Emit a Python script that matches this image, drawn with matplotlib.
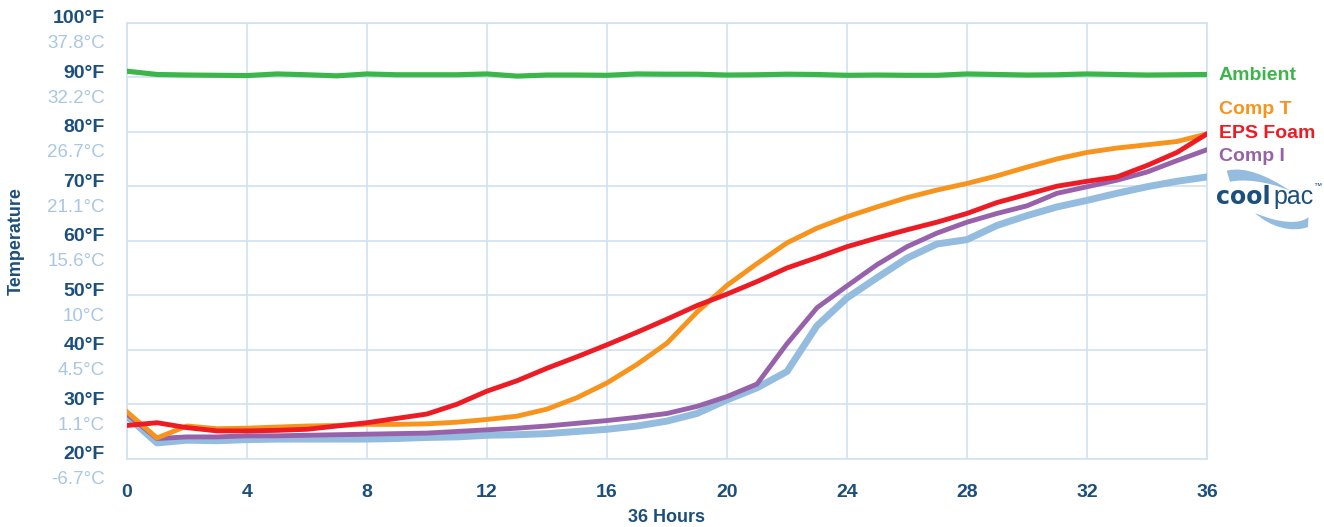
import matplotlib
matplotlib.use("Agg")
import matplotlib.pyplot as plt
from matplotlib.path import Path
from matplotlib.patches import PathPatch

# ---------------- data ----------------
hours = list(range(37))
ambient = [91.1, 90.5, 90.4, 90.35, 90.3, 90.6, 90.45, 90.25, 90.6, 90.45, 90.45, 90.45, 90.6,
           90.2, 90.4, 90.4, 90.35, 90.6, 90.55, 90.55, 90.4, 90.45, 90.55, 90.5, 90.35, 90.4,
           90.35, 90.35, 90.6, 90.5, 90.4, 90.45, 90.6, 90.5, 90.4, 90.45, 90.5]
comp_t = [28.6, 23.8, 26.0, 25.5, 25.6, 25.8, 26.0, 26.1, 26.3, 26.3, 26.4, 26.7, 27.2, 27.8,
          29.1, 31.2, 33.9, 37.3, 41.2, 46.9, 51.8, 55.8, 59.6, 62.3, 64.4, 66.2, 67.9, 69.3,
          70.5, 71.9, 73.5, 75.0, 76.2, 77.0, 77.6, 78.2, 79.6]
eps_foam = [26.1, 26.6, 25.7, 25.1, 25.1, 25.2, 25.4, 26.0, 26.6, 27.4, 28.2, 30.0, 32.4, 34.3,
            36.6, 38.7, 40.9, 43.2, 45.6, 48.1, 50.2, 52.5, 55.0, 56.9, 58.9, 60.5, 62.0, 63.4,
            65.0, 67.0, 68.5, 70.0, 70.9, 71.7, 73.8, 76.2, 79.6]
comp_i = [28.2, 23.7, 24.0, 24.0, 24.2, 24.2, 24.3, 24.4, 24.5, 24.6, 24.7, 25.0, 25.3, 25.6,
          26.0, 26.5, 27.0, 27.6, 28.3, 29.6, 31.4, 33.7, 41.1, 47.7, 51.7, 55.6, 58.9, 61.4,
          63.4, 65.0, 66.4, 68.7, 69.9, 71.1, 72.6, 74.7, 76.7]
coolpac = [27.8, 22.9, 23.4, 23.3, 23.5, 23.6, 23.6, 23.6, 23.6, 23.7, 23.9, 24.0, 24.3, 24.4,
           24.6, 25.0, 25.4, 26.0, 26.9, 28.3, 30.8, 33.0, 36.0, 44.4, 49.5, 53.2, 56.8, 59.4,
           60.2, 62.8, 64.6, 66.2, 67.4, 68.7, 69.9, 70.9, 71.7]

f_ticks = [20, 30, 40, 50, 60, 70, 80, 90, 100]
f_labels = ["20°F", "30°F", "40°F", "50°F", "60°F", "70°F", "80°F", "90°F", "100°F"]
c_labels = ["-6.7°C", "1.1°C", "4.5°C", "10°C", "15.6°C", "21.1°C", "26.7°C", "32.2°C", "37.8°C"]
x_ticks = [0, 4, 8, 12, 16, 20, 24, 28, 32, 36]

series_names = ["Ambient", "Comp T", "EPS Foam", "Comp I"]

# ---------------- style ----------------
plt.rcParams['font.family'] = ['Liberation Sans', 'DejaVu Sans']
DARK = '#1c4f7c'
CLIGHT = '#a9c7e3'
GRID = '#d4e3f1'
GREEN = '#3cb54a'
ORANGE = '#f7941d'
RED = '#ed1c24'
PURPLE = '#9762a9'
LBLUE = '#93bcde'

W, H = 1324, 527
fig = plt.figure(figsize=(W / 100, H / 100), dpi=100)
ax = fig.add_axes([127 / W, 1 - 458.7 / H, 1080 / W, 436 / H])

ax.plot(hours, coolpac, color=LBLUE, lw=5.0, zorder=3)
ax.plot(hours, comp_i, color=PURPLE, lw=3.5, zorder=4)
ax.plot(hours, comp_t, color=ORANGE, lw=3.5, zorder=5)
ax.plot(hours, eps_foam, color=RED, lw=3.5, zorder=6)
ax.plot(hours, ambient, color=GREEN, lw=3.7, zorder=6)

ax.set_xlim(0, 36)
ax.set_ylim(20, 100)
ax.set_xticks(x_ticks)
ax.set_yticks(f_ticks)
ax.grid(True, color=GRID, lw=1.3, zorder=0)
ax.set_axisbelow(True)
for s in ax.spines.values():
    s.set_color(GRID)
    s.set_linewidth(1.3)
ax.tick_params(length=0)
ax.set_yticklabels([])
ax.set_xticklabels([str(v) for v in x_ticks], fontsize=14, fontweight='bold', color=DARK)
ax.tick_params(axis='x', pad=18)

for v, fl, cl in zip(f_ticks, f_labels, c_labels):
    ax.annotate(fl, xy=(0, v), xycoords=('axes fraction', 'data'), xytext=(-16, 3),
                textcoords='offset points', ha='right', va='center', fontsize=14,
                fontweight='bold', color=DARK)
    ax.annotate(cl, xy=(0, v), xycoords=('axes fraction', 'data'), xytext=(-16, -15),
                textcoords='offset points', ha='right', va='center', fontsize=13.5,
                color=CLIGHT)

fig.text(667 / W, 1 - 517 / H, "36 Hours", ha='center', va='center', fontsize=13,
         fontweight='bold', color=DARK)
fig.text(16 / W, 1 - 241 / H, "Temperature", ha='center', va='center', rotation=90,
         fontsize=13, fontweight='bold', color=DARK)

# series labels at the right
lab_cols = [GREEN, ORANGE, RED, PURPLE]
lab_y = [75, 109, 133, 157]
for name, col, yy in zip(series_names, lab_cols, lab_y):
    fig.text(1219 / W, 1 - yy / H, name, ha='left', va='center', fontsize=14,
             fontweight='bold', color=col)

# coolpac logo
fig.text(1216 / W, 1 - 197 / H, "cool", ha='left', va='center', fontsize=17,
         fontweight='bold', family=['DejaVu Sans'], color=DARK)
fig.text(1273 / W, 1 - 197 / H, "pac", ha='left', va='center', fontsize=18,
         family=['Liberation Sans', 'DejaVu Sans'], color=DARK)
fig.text(1313 / W, 1 - 187 / H, "™", ha='left', va='center', fontsize=6, color=DARK)


def px(x, y):
    return (x / W, 1 - y / H)


top = [px(1226.7, 170.7), px(1245, 166), px(1268, 176), px(1290, 190.7),
       px(1265, 180.5), px(1243, 179), px(1230, 181.7), px(1226.7, 170.7)]
top_codes = [Path.MOVETO, Path.CURVE4, Path.CURVE4, Path.CURVE4,
             Path.CURVE4, Path.CURVE4, Path.CURVE4, Path.CLOSEPOLY]
fig.patches.append(PathPatch(Path(top, top_codes), transform=fig.transFigure,
                             facecolor=LBLUE, edgecolor='none'))
bot = [px(1255, 213), px(1270, 227), px(1292, 233), px(1308, 227),
       px(1308.5, 217),
       px(1300, 225), px(1278, 223), px(1255, 213), px(1255, 213)]
bot_codes = [Path.MOVETO, Path.CURVE4, Path.CURVE4, Path.CURVE4,
             Path.LINETO,
             Path.CURVE4, Path.CURVE4, Path.CURVE4, Path.CLOSEPOLY]
fig.patches.append(PathPatch(Path(bot, bot_codes), transform=fig.transFigure,
                             facecolor=LBLUE, edgecolor='none'))

fig.savefig("out.png", dpi=100)
